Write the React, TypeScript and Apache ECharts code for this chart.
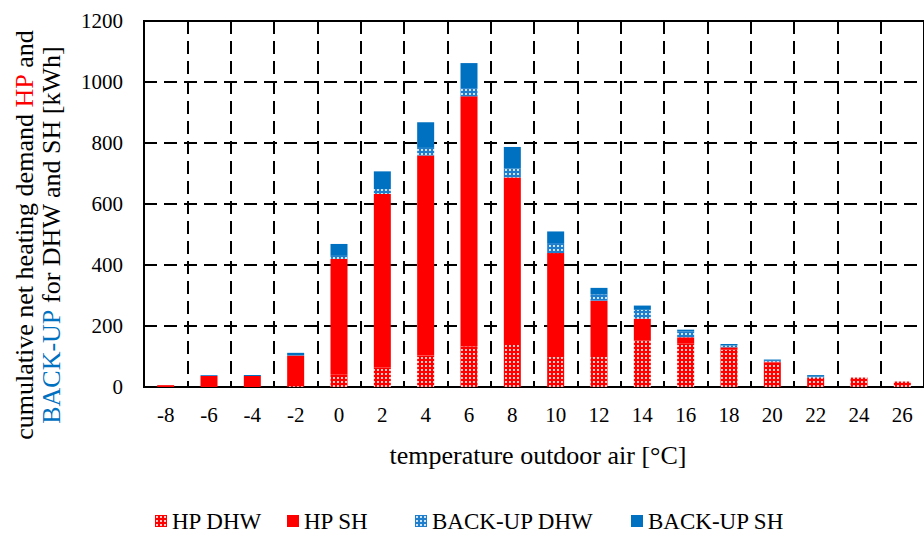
import React, { useEffect, useRef } from "react";
import * as echarts from "echarts";

// Outdoor air temperature bins [°C]
const categories = ["-8", "-6", "-4", "-2", "0", "2", "4", "6", "8", "10", "12", "14", "16", "18", "20", "22", "24", "26"];

// Cumulative net heating demand per bin [kWh]
const hpDhw = [0, 0, 0, 3, 40, 64, 103, 133, 138, 98, 98, 153, 142, 122, 80, 31, 31, 18];
const hpSh = [6, 36, 36, 100, 380, 569, 656, 820, 549, 341, 185, 71, 21, 8, 3, 0, 0, 0];
const backupDhw = [0, 3, 0, 1, 10, 16, 25, 27, 29, 33, 20, 29, 19, 6, 3, 3, 0, 0];
const backupSh = [0, 0, 3, 8, 39, 58, 84, 82, 71, 38, 22, 14, 6, 5, 4, 5, 0, 0];

const yTicks = { min: 0, max: 1200, interval: 200 };

const FONT = "Liberation Serif";
const RED = "#FF0000";
const BLUE = "#0070C0";

function dotPattern(bg: string, dot: string) {
  const size = 4;
  const c = document.createElement("canvas");
  c.width = size;
  c.height = size;
  const ctx = c.getContext("2d")!;
  ctx.fillStyle = bg;
  ctx.fillRect(0, 0, size, size);
  ctx.fillStyle = dot;
  ctx.beginPath();
  ctx.arc(size / 2, size / 2, 1.05, 0, Math.PI * 2);
  ctx.fill();
  return { image: c, repeat: "repeat", imageWidth: size, imageHeight: size } as any;
}

export default function App() {
  const ref = useRef<HTMLDivElement>(null);

  useEffect(() => {
    if (!ref.current) return;
    const chart = echarts.init(ref.current, undefined, { renderer: "svg" });

    const dashed = { color: "#000", width: 2, type: [13, 7] as any };

    const legendText = { fontFamily: FONT, fontSize: 23, lineHeight: 24, color: "#000" };
    const legendBase = {
      top: 509,
      padding: 0,
      itemWidth: 12,
      itemHeight: 12,
      icon: "rect",
      textStyle: legendText,
      selectedMode: false,
    };

    const series = [
      { name: "HP DHW", data: hpDhw, color: dotPattern(RED, "#FFFFFF") },
      { name: "HP SH", data: hpSh, color: RED },
      { name: "BACK-UP DHW", data: backupDhw, color: dotPattern("#1F7FCF", "#FFFFFF") },
      { name: "BACK-UP SH", data: backupSh, color: BLUE },
    ].map((s) => ({
      name: s.name,
      type: "bar" as const,
      stack: "demand",
      barWidth: 17,
      data: s.data,
      itemStyle: { color: s.color },
    }));

    chart.setOption({
      animation: false,
      backgroundColor: "#fff",
      textStyle: { fontFamily: FONT, color: "#000" },
      grid: {
        left: 144,
        top: 21,
        width: 781,
        bottom: 146,
        show: true,
        borderColor: "#000",
        borderWidth: 2,
        backgroundColor: "transparent",
      },
      xAxis: {
        type: "category",
        data: categories,
        boundaryGap: true,
        axisLine: { show: true, lineStyle: { color: "#000", width: 2 } },
        axisTick: { show: false },
        axisLabel: { interval: 0, margin: 17, fontFamily: FONT, fontSize: 21, color: "#000" },
        splitLine: { show: true, interval: 0, lineStyle: dashed },
        name: "temperature outdoor air [°C]",
        nameLocation: "middle",
        nameGap: 55,
        nameTextStyle: { fontFamily: FONT, fontSize: 26, color: "#000", padding: [0, 0, 0, 8] },
      },
      yAxis: {
        type: "value",
        min: yTicks.min,
        max: yTicks.max,
        interval: yTicks.interval,
        axisLine: { show: true, lineStyle: { color: "#000", width: 2 } },
        axisTick: { show: false },
        axisLabel: {
          margin: 21,
          fontFamily: FONT,
          fontSize: 21,
          color: "#000",
          formatter: (v: number) => String(v),
        },
        splitLine: { show: true, lineStyle: dashed },
      },
      legend: [
        { ...legendBase, left: 155, data: ["HP DHW"] },
        { ...legendBase, left: 287, data: ["HP SH"] },
        { ...legendBase, left: 415, data: ["BACK-UP DHW"] },
        { ...legendBase, left: 631, data: ["BACK-UP SH"] },
      ],
      graphic: [
        {
          type: "text",
          x: 38,
          y: 235,
          rotation: Math.PI / 2,
          style: {
            text:
              "{k|cumulative net heating demand }{r|HP}{k| and}\n{b|BACK-UP}{k| for DHW and SH [kWh]}",
            align: "center",
            verticalAlign: "middle",
            rich: {
              k: { fill: "#000", fontSize: 26, fontFamily: FONT, lineHeight: 27 },
              r: { fill: RED, fontSize: 26, fontFamily: FONT, lineHeight: 27 },
              b: { fill: BLUE, fontSize: 26, fontFamily: FONT, lineHeight: 27 },
            },
          },
        },
      ],
      series,
    });

    return () => chart.dispose();
  }, []);

  return (
    <div
      ref={ref}
      style={{ position: "fixed", left: 0, top: 0, width: 924, height: 533 }}
    />
  );
}
